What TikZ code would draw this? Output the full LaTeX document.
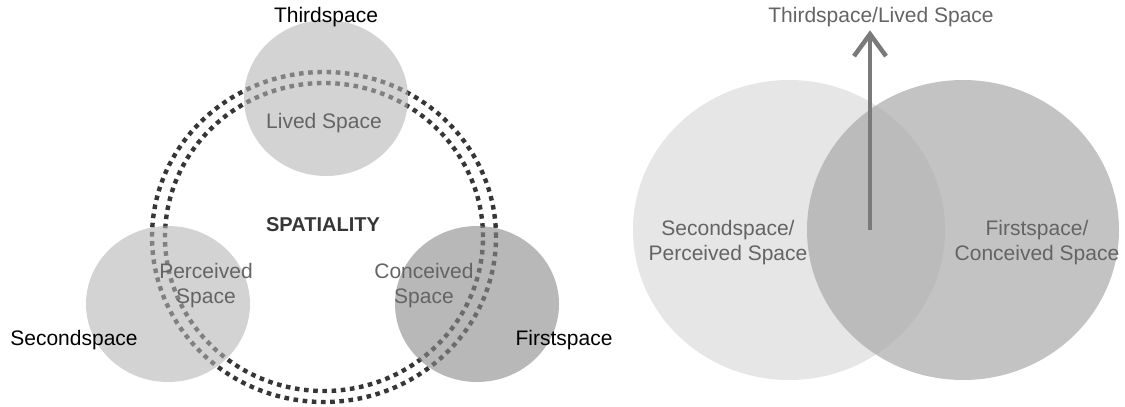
\documentclass[tikz,border=0pt]{standalone}
\usepackage{fontspec}
\setmainfont{Liberation Sans}
\usetikzlibrary{arrows.meta}
\usetikzlibrary{positioning,shapes.geometric}

\definecolor{dotgray}{RGB}{54,54,54}
\definecolor{txtgray}{RGB}{100,100,100}
\definecolor{softgray}{RGB}{181,181,181}
\definecolor{midgray}{RGB}{140,140,140}
\definecolor{palegray}{RGB}{230,230,230}
\definecolor{foggray}{RGB}{167,167,167}
\definecolor{arrowgray}{RGB}{122,122,122}

\begin{document}
\begin{tikzpicture}[x=1pt,y=-1pt,
  every node/.style={font=\fontsize{21}{25}\selectfont,align=center},
  ring/.style={dotgray,line width=4.4pt,dash pattern=on 4.6pt off 4.6pt},
  blob/.style={ellipse,inner sep=0pt,minimum width=164pt,minimum height=156pt},
  grey text/.style={text=txtgray}]

  \useasboundingbox (0,0) rectangle (1125,407);

  \draw[ring] (324,237) ellipse [x radius=172pt,y radius=165pt];
  \draw[ring] (324,237) ellipse [x radius=159pt,y radius=154pt];

  \node[blob,fill=softgray,fill opacity=0.59] (3) at (326,98) {};
  \node[blob,fill=softgray,fill opacity=0.59] (2) at (168,304) {};
  \node[blob,fill=midgray,fill opacity=0.62] (1) at (477,304) {};

  \node (t3) at (326,17) {Thirdspace};
  \node (t2) at (74,340) {Secondspace};
  \node (t1) at (564,340) {Firstspace};
  \node[grey text] (l3) at (324,123) {Lived Space};
  \node[grey text] (l2) at (206,286) {Perceived\\Space};
  \node[grey text] (l1) at (424,286) {Conceived\\Space};
  \node[font=\fontsize{20}{24}\selectfont\bfseries,text=dotgray] (sp) at (323,225) {SPATIALITY};

  \node[blob,minimum width=312pt,minimum height=300pt,fill=palegray] (perc) at (789,230) {};
  \node[blob,minimum width=312pt,minimum height=300pt,fill=foggray,fill opacity=0.68] (conc) at (963,230) {};
  \node[grey text] (lp) at (728,243) {Secondspace/\\Perceived Space};
  \node[grey text] (lc) at (1037,243) {Firstspace/\\Conceived Space};
  \node[grey text] (lived) at (881,17) {Thirdspace/Lived Space};
  \coordinate (base) at (870,230);

  \draw[-{Straight Barb[length=22pt,width=32pt]},arrowgray,line width=4.5pt] (base) -- (base |- lived.south);

\end{tikzpicture}
\end{document}
